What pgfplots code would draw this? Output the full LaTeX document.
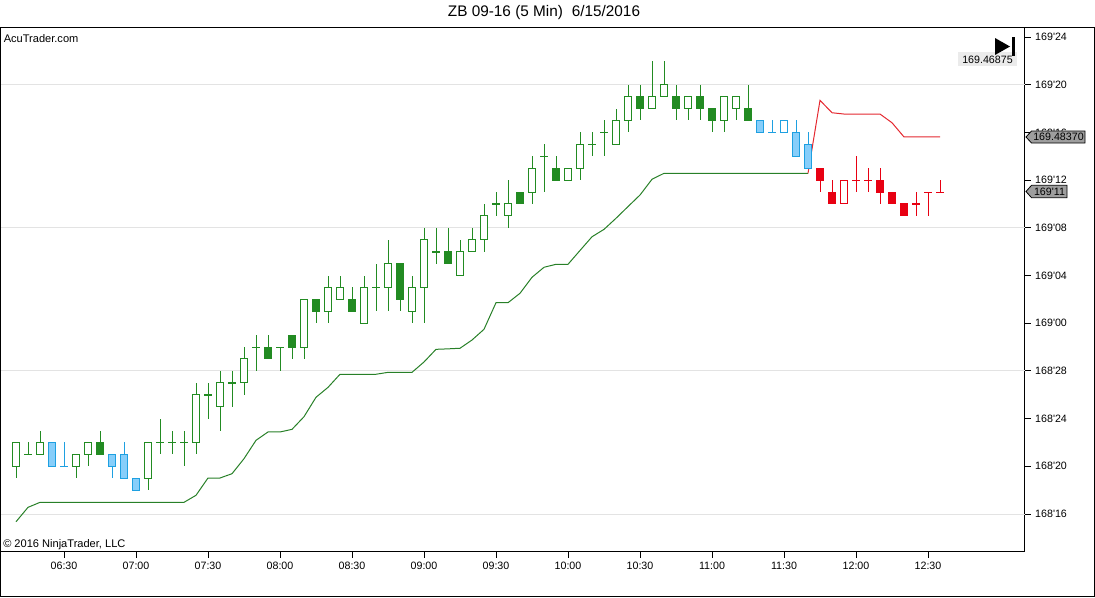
\documentclass[border=0pt]{standalone}
\usepackage{pgfplots}
\pgfplotsset{compat=1.18}
\usepackage{pgfplotstable}
\usepackage{fontspec}
\setmainfont{Liberation Sans}

\definecolor{cgreen}{RGB}{34,139,34}
\definecolor{cgline}{RGB}{40,128,40}
\definecolor{cblue}{RGB}{30,160,225}
\definecolor{cbluefill}{RGB}{135,206,250}
\definecolor{cred}{RGB}{232,0,18}
\definecolor{crline}{RGB}{228,40,48}
\newcommand\ap{\textquotesingle}

\pgfplotsset{
  ebar/.style={draw=none, mark=none, forget plot,
    error bars/.cd, y dir=both, y explicit, error mark=none,
    error bar style={#1}},
}
% candle layers: #1 table, #2 line colour, #3 fill of down bodies
\newcommand\candles[3]{%
  \addplot[ebar={#2, line width=0.75pt}]
    table[x=i, y expr=(\thisrow{h}+\thisrow{l})/2, y error expr=(\thisrow{h}-\thisrow{l})/2] {#1};
  \addplot[ebar={#2, line width=6.375pt}]
    table[x=i, y expr=(\thisrow{o}+\thisrow{c})/2, y error expr=abs(\thisrow{c}-\thisrow{o})/2+0.042] {#1};
  \addplot[restrict expr to domain={\thisrow{c}-\thisrow{o}}{0.5:100}, ebar={white, line width=4.875pt}]
    table[x=i, y expr=(\thisrow{o}+\thisrow{c})/2, y error expr=(\thisrow{c}-\thisrow{o})/2-0.042] {#1};
  \addplot[restrict expr to domain={\thisrow{o}-\thisrow{c}}{0.5:100}, ebar={#3, line width=4.875pt}]
    table[x=i, y expr=(\thisrow{o}+\thisrow{c})/2, y error expr=(\thisrow{o}-\thisrow{c})/2-0.042] {#1};
}

% prices in 32nds above 168'00
\pgfplotstableread{
i o h l c
0 20 22 19 22
1 21 22 21 21
2 21 23 21 22
5 20 21 19 21
6 21 22 20 22
7 22 23 21 21
11 19 22 18 22
12 22 24 21 22
13 22 23 21 22
14 22 23 20 22
15 22 27 21 26
16 26 27 24 26
17 25 28 23 27
18 27 28 25 27
19 27 30 26 29
20 30 31 28 30
21 30 31 29 29
22 30 30 28 30
23 31 31 29 30
24 30 34 29 34
25 34 34 32 33
26 33 36 32 35
27 34 36 34 35
28 34 35 33 33
29 32 36 32 35
30 35 37 33 35
31 35 39 33 37
32 37 37 33 34
33 33 36 32 35
34 35 40 32 39
35 38 40 37 38
36 38 40 37 37
37 36 39 36 38
38 38 40 38 39
39 39 42 38 41
40 42 43 41 42
41 41 44 40 42
42 43 43 42 42
43 43 46 42 45
44 46 47 43 46
45 45 46 44 44
46 44 45 44 45
47 45 48 44 47
48 47 48 46 47
49 48 49 46 48
50 47 50 47 49
51 49 52 48 51
52 51 52 49 50
53 50 54 50 51
54 51 54 51 52
55 51 52 49 50
56 50 51 49 51
57 51 52 49 50
58 50 50 48 49
59 49 51 48 51
60 50 51 49 51
61 50 52 49 49
}\gdata

\pgfplotstableread{
i o h l c
3 22 22 20 20
4 20 22 20 20
8 21 21 19 20
9 21 22 19 19
10 19 19 18 18
62 49 49 48 48
63 48 49 48 48
64 48 49 48 49
65 48 49 46 46
66 47 48 45 45
}\bdata

\pgfplotstableread{
i o h l c
67 45 45 43 44
68 43 44 42 42
69 42 44 42 44
70 44 46 43 44
71 44 45 43 44
72 44 45 42 43
73 43 43 42 42
74 42 42 41 41
75 42 43 41 42
76 43 43 41 43
77 43 44 43 43
}\rdata

\pgfplotstableread{
i v
0 15.35
1 16.56
2 16.98
14 16.98
15 17.57
16 19.02
17 19.02
18 19.38
19 20.64
20 22.18
21 22.88
22 22.88
23 23.10
24 24.16
25 25.79
26 26.62
27 27.72
30 27.72
31 27.88
33 27.88
34 28.75
35 29.81
36 29.85
37 29.90
38 30.59
39 31.49
40 33.72
41 33.72
42 34.51
43 35.85
44 36.69
45 36.94
46 36.94
47 38.10
48 39.25
49 39.87
50 40.80
51 41.78
52 42.75
53 44.07
54 44.57
66 44.57
}\gline

\pgfplotstableread{
i v
66 44.57
67 50.69
68 49.65
69 49.54
72 49.54
73 48.81
74 47.62
77 47.62
}\rline

\begin{document}
\begin{tikzpicture}
\begin{scope}[x=0.75pt,y=-0.75pt]
\path[use as bounding box] (0,0) rectangle (1095,597);
\end{scope}
\begin{axis}[
  at={(0.375pt,-413.625pt)}, anchor=south west,
  scale only axis, width=768pt, height=393pt,
  xmin=-1.2917, xmax=84.042, ymin=12.856, ymax=56.797,
  axis line style={black, line width=0.75pt},
  tick align=outside, xtick pos=left, ytick pos=right, yticklabel pos=right,
  major tick length=4.5pt,
  tick style={black, line width=0.75pt},
  xtick={4,10,...,76},
  xticklabels={06:30,07:00,07:30,08:00,08:30,09:00,09:30,10:00,10:30,11:00,11:30,12:00,12:30},
  ytick={16,20,...,56},
  yticklabels={168\ap16,168\ap20,168\ap24,168\ap28,169\ap00,169\ap04,169\ap08,169\ap12,169\ap16,169\ap20,169\ap24},
  ticklabel style={font=\fontsize{8}{9}\selectfont},
  extra y ticks={16,28,40,52},
  extra y tick labels={},
  extra y tick style={grid=major, major tick length=0pt},
  major grid style={black!11, line width=0.75pt},
]
\addplot[cgline, line width=0.75pt, mark=none] table[x=i,y=v] {\gline};
\addplot[crline, line width=0.75pt, mark=none] table[x=i,y=v] {\rline};
\candles{\gdata}{cgreen}{cgreen}
\candles{\bdata}{cblue}{cbluefill}
\candles{\rdata}{cred}{cred}
\end{axis}
\begin{scope}[x=0.75pt,y=-0.75pt]
\draw[line width=0.75pt] (0.5,27.5) -- (1094.5,27.5) -- (1094.5,596.5) -- (0.5,596.5) -- cycle;
\node[font=\fontsize{11.5}{13}\selectfont, inner sep=0] at (544,13) {ZB 09-16 (5 Min)\hspace{0.3em} 6/15/2016};
\node[anchor=west, font=\fontsize{8.3}{10}\selectfont, inner sep=0] at (3.5,39) {AcuTrader.com};
\node[anchor=west, font=\fontsize{8.3}{10}\selectfont, inner sep=0] at (3,545) {© 2016 NinjaTrader, LLC};
% price marker top right
\fill[black!8] (958,52) rectangle (1017,66);
\node[font=\fontsize{8}{9}\selectfont, inner sep=0] at (987.5,59.5) {169.46875};
\fill[black] (995,38) -- (1010,46.5) -- (995,55) -- cycle;
\fill[black] (1011.5,37) rectangle (1015,56);
% right side boxes
\draw[fill=black!38, line width=0.6pt] (1026,137) -- (1031.5,131) -- (1085,131) -- (1085,143) -- (1031.5,143) -- cycle;
\node[font=\fontsize{8}{9}\selectfont, inner sep=0] at (1058.5,137.3) {169.48370};
\draw[fill=black!38, line width=0.6pt] (1026,191.5) -- (1031.5,185.3) -- (1067,185.3) -- (1067,197.7) -- (1031.5,197.7) -- cycle;
\node[font=\fontsize{8}{9}\selectfont, inner sep=0] at (1049.5,191.8) {169\ap11};
\end{scope}
\end{tikzpicture}
\end{document}
